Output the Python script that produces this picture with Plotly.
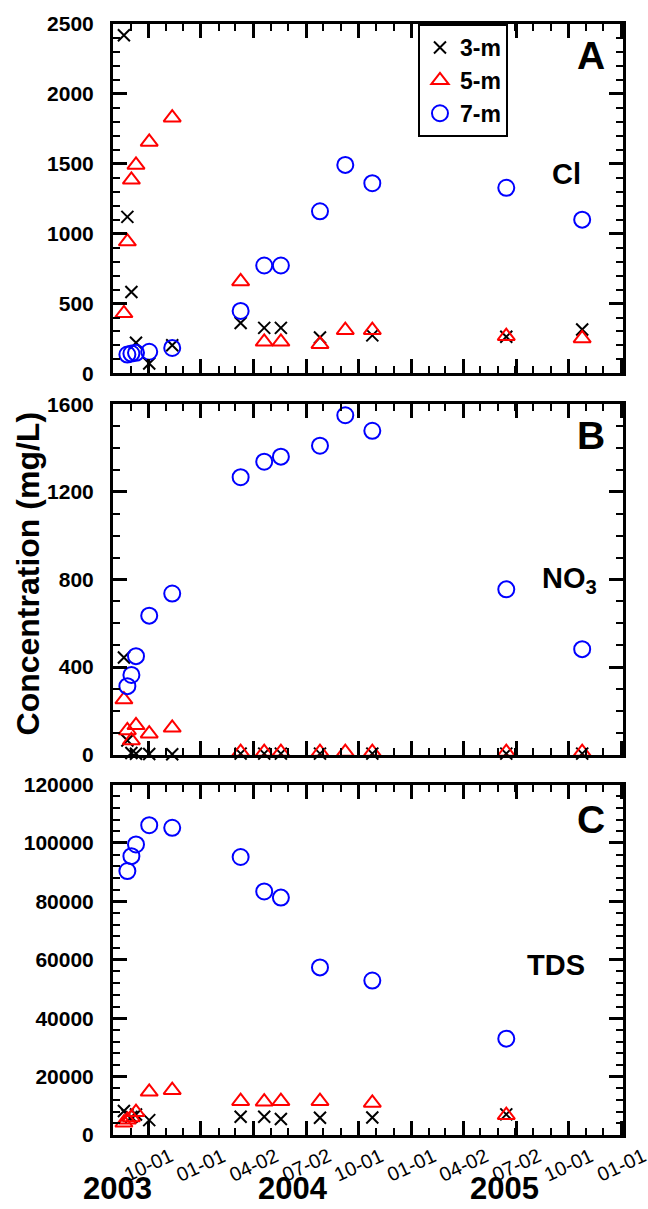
import plotly.graph_objects as go

# ---- sampling dates ----
D = {
    1: "2003-08-20", 2: "2003-08-26", 3: "2003-09-02", 4: "2003-09-10",
    5: "2003-10-03", 6: "2003-11-12", 7: "2004-03-10", 8: "2004-04-20",
    9: "2004-05-19", 10: "2004-07-26", 11: "2004-09-08", 12: "2004-10-25",
    13: "2005-06-15", 14: "2005-10-25",
}

# ---- Cl (mg/L) ----
cl_3m_dates = [D[i] for i in (1, 2, 3, 4, 5, 6, 7, 8, 9, 10, 12, 13, 14)]
cl_3m = [2420, 1120, 582, 219, 71, 202, 361, 326, 326, 257, 272, 262, 314]
cl_5m_dates = [D[i] for i in range(1, 15)]
cl_5m = [430, 943, 1385, 1492, 1656, 1830, 658, 226, 226, 209, 309, 309, 266, 250]
cl_7m_dates = [D[i] for i in range(2, 15)]
cl_7m = [135, 142, 147, 155, 182, 447, 772, 772, 1160, 1492, 1361, 1328, 1100]

# ---- NO3 (mg/L) ----
no3_3m_dates = [D[i] for i in (1, 2, 3, 4, 5, 6, 7, 8, 9, 10, 12, 13, 14)]
no3_3m = [444, 65, 8, 4, 3, 2, 5, 5, 5, 5, 5, 5, 5]
no3_5m_dates = [D[i] for i in range(1, 15)]
no3_5m = [252, 111, 65, 134, 96, 123, 12, 12, 12, 12, 12, 12, 12, 12]
no3_7m_dates = [D[i] for i in range(2, 15)]
no3_7m = [313, 364, 450, 635, 736, 1267, 1338, 1361, 1411, 1550, 1479, 755, 482]

# ---- TDS (mg/L) ----
tds_3m_dates = [D[i] for i in (1, 2, 3, 4, 5, 7, 8, 9, 10, 12, 13)]
tds_3m = [8200, 6800, 6200, 7000, 5100, 6250, 6250, 5460, 5900, 6000, 7050]
tds_5m_dates = [D[i] for i in (1, 2, 3, 4, 5, 6, 7, 8, 9, 10, 12, 13)]
tds_5m = [4200, 5200, 6000, 7800, 14800, 15350, 11600, 11400, 11600, 11600, 11000, 6800]
tds_7m_dates = [D[i] for i in (2, 3, 4, 5, 6, 7, 8, 9, 10, 12, 13)]
tds_7m = [90400, 95500, 99500, 106100, 105200, 95200, 83400, 81300, 57400, 52900, 33000]

# ---- x ticks ----
tick_dates = ["2003-10-01", "2004-01-01", "2004-04-02", "2004-07-02", "2004-10-01",
              "2005-01-01", "2005-04-02", "2005-07-02", "2005-10-01", "2006-01-01"]
tick_text = ["10-01", "01-01", "04-02", "07-02", "10-01",
             "01-01", "04-02", "07-02", "10-01", "01-01"]
year_labels = ["2003", "2004", "2005"]
year_pos = [0.0098, 0.353, 0.767]

FONT = "Liberation Sans, Arial, Helvetica, sans-serif"

styles = {
    "3-m": dict(symbol="x-thin-open", size=12, color="black", line=dict(width=2, color="black")),
    "5-m": dict(symbol="triangle-up-open", size=15, color="red", line=dict(width=2, color="red")),
    "7-m": dict(symbol="circle-open", size=16, color="blue", line=dict(width=2, color="blue")),
}

panels = [
    ("x", "y", [(cl_3m_dates, cl_3m), (cl_5m_dates, cl_5m), (cl_7m_dates, cl_7m)]),
    ("x2", "y2", [(no3_3m_dates, no3_3m), (no3_5m_dates, no3_5m), (no3_7m_dates, no3_7m)]),
    ("x3", "y3", [(tds_3m_dates, tds_3m), (tds_5m_dates, tds_5m), (tds_7m_dates, tds_7m)]),
]

fig = go.Figure()
for pi, (xa, ya, series) in enumerate(panels):
    for (name, (dx, vy)) in zip(["3-m", "5-m", "7-m"], series):
        fig.add_trace(go.Scatter(
            x=dx, y=vy, mode="markers", name=name, xaxis=xa, yaxis=ya,
            marker=styles[name], showlegend=(pi == 0), cliponaxis=False,
            legendrank={"3-m": 1, "5-m": 2, "7-m": 3}[name],
        ))

x_range = ["2003-08-01", "2006-01-04"]
common_x = dict(
    type="date", range=x_range, tickmode="array", tickvals=tick_dates,
    showticklabels=False, ticks="inside", ticklen=14, tickwidth=3, tickcolor="black",
    showline=True, linewidth=3, linecolor="black", mirror="allticks",
    showgrid=False, zeroline=False,
    minor=dict(tickmode="linear", tick0="2003-08-01", dtick="M1", ticks="inside",
               ticklen=7, tickwidth=2, tickcolor="black", showgrid=False),
)

def y_axis(rng, dtick, minor, domain):
    return dict(
        range=rng, domain=domain, tickmode="linear", tick0=0, dtick=dtick,
        tickformat="d", exponentformat="none",
        ticks="inside", ticklen=14, tickwidth=3, tickcolor="black",
        showline=True, linewidth=3, linecolor="black", mirror="allticks",
        showgrid=False, zeroline=False, ticklabelstandoff=12,
        tickfont=dict(family=FONT, size=21, color="black", weight="bold"),
        minor=dict(tickmode="linear", tick0=0, dtick=minor, ticks="inside",
                   ticklen=7, tickwidth=2, tickcolor="black", showgrid=False),
    )

fig.update_layout(
    width=648, height=1209,
    margin=dict(l=113, r=25, t=19, b=74),
    paper_bgcolor="white", plot_bgcolor="white",
    font=dict(family=FONT, color="black"),
    xaxis=dict(common_x, anchor="y", domain=[0, 1]),
    xaxis2=dict(common_x, anchor="y2", domain=[0, 1], matches="x"),
    xaxis3=dict(common_x, anchor="y3", domain=[0, 1], matches="x"),
    yaxis=y_axis([0, 2500], 500, 100, [0.6855, 1.0]),
    yaxis2=y_axis([0, 1600], 400, 100, [0.3423, 0.6577]),
    yaxis3=y_axis([0, 120000], 20000, 4000, [0.0, 0.3154]),
    legend=dict(
        x=0.598, y=1.0, xanchor="left", yanchor="top",
        bordercolor="black", borderwidth=2, bgcolor="white",
        font=dict(family=FONT, size=23, color="black", weight="bold"),
        tracegroupgap=0, itemwidth=30,
    ),
)

ann = []
# x tick labels, slanted and centred on each tick
for d, t in zip(tick_dates, tick_text):
    ann.append(dict(x=d, y=-0.027, xref="x3", yref="paper", text=t, showarrow=False,
                    textangle=-25, xanchor="center", yanchor="middle",
                    font=dict(family=FONT, size=20, color="black")))
for yl, xp in zip(year_labels, year_pos):
    ann.append(dict(x=xp, y=-0.0484, xref="paper", yref="paper", text=yl, showarrow=False,
                    xanchor="center", yanchor="middle",
                    font=dict(family=FONT, size=31, color="black", weight="bold")))
# axis title
ann.append(dict(x=-0.1667, y=0.5054, xref="paper", yref="paper",
                text="Concentration (mg/L)", showarrow=False, textangle=-90,
                xanchor="center", yanchor="middle",
                font=dict(family=FONT, size=32, color="black", weight="bold")))
# panel letters and analyte names
for txt, xp, yp, sz in [("A", 0.937, 0.9713, 39), ("B", 0.937, 0.630, 39), ("C", 0.937, 0.284, 39),
                        ("Cl", 0.890, 0.8647, 29), ("NO<sub>3</sub>", 0.896, 0.500, 29),
                        ("TDS", 0.8686, 0.1532, 29)]:
    ann.append(dict(x=xp, y=yp, xref="paper", yref="paper", text=txt, showarrow=False,
                    xanchor="center", yanchor="middle",
                    font=dict(family=FONT, size=sz, color="black", weight="bold")))
fig.update_layout(annotations=ann)

fig.write_html("out.html")
